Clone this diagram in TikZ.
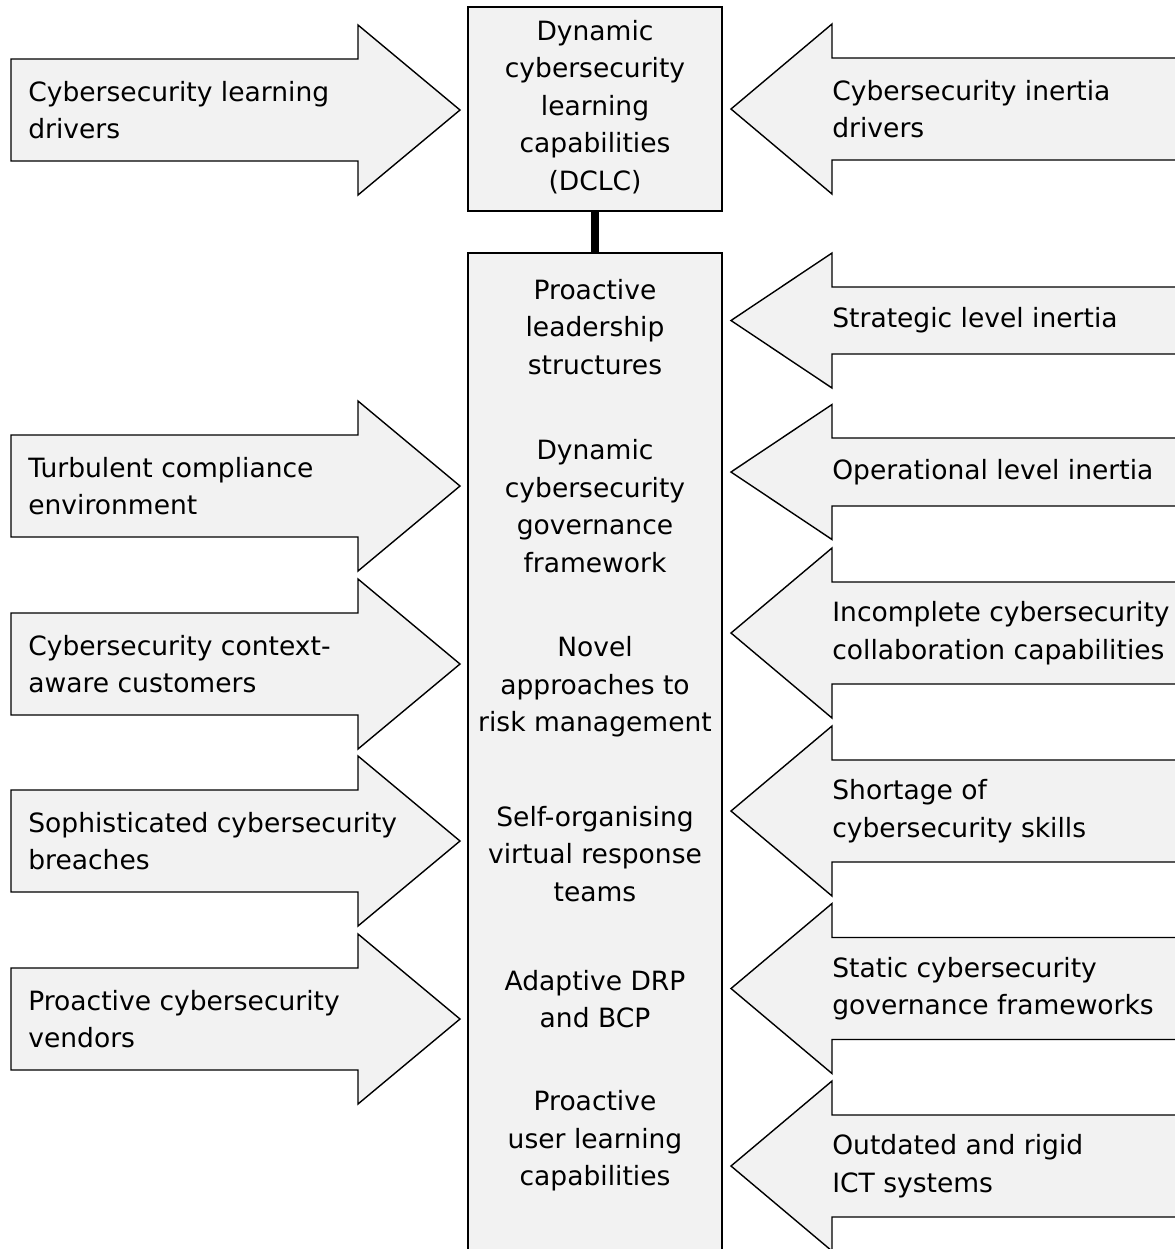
\documentclass[tikz,border=0pt]{standalone}
\usepackage{fontspec}
\setmainfont{DejaVu Sans}
\definecolor{boxgray}{RGB}{242,242,242}
\tikzset{
  txt/.style={font=\fontsize{15.1}{21.3}\selectfont, inner sep=0pt},
  driver/.style={draw, line width=0.8pt, fill=boxgray, line join=miter},
  capbox/.style={draw, line width=1.2pt, fill=boxgray, minimum width=5.08cm}
}
\begin{document}
\begin{tikzpicture}[x=0.02cm, y=-0.02cm]
	\useasboundingbox (0,0) rectangle (1175,1249);
	\clip (0,0) rectangle (1175,1249);
	% boxes in the middle
	\node[capbox, minimum height=4.08cm] (dclc) at (595,109) {};
	\node[capbox, minimum height=20.6cm] (caps) at (595,768) {};
	\draw[line width=4.5pt] (dclc.south) -- (caps.north);
	\node[txt, align=center] (dclctxt) at (595,107) {Dynamic\\cybersecurity\\learning\\capabilities\\(DCLC)};
	\node[txt, align=center] (lead) at (595,327) {Proactive\\leadership\\structures};
	\node[txt, align=center] (gov) at (595,506) {Dynamic\\cybersecurity\\governance\\framework};
	\node[txt, align=center] (risk) at (595,687) {Novel\\approaches to\\risk management};
	\node[txt, align=center] (teams) at (595,854) {Self-organising\\virtual response\\teams};
	\node[txt, align=center] (drp) at (595,999) {Adaptive DRP\\and BCP};
	\node[txt, align=center] (user) at (595,1141) {Proactive\\user learning\\capabilities};
	% drivers on the left
	\foreach \c/\name/\label in {110/lrn/{Cybersecurity learning\\drivers},
	    486/turb/{Turbulent compliance\\environment},
	    664/cust/{Cybersecurity context-\\aware customers},
	    841/brch/{Sophisticated cybersecurity\\breaches},
	    1019/vend/{Proactive cybersecurity\\vendors}} {
		\draw[driver] (11,\c-51) -- (358,\c-51) -- (358,\c-85) -- (460,\c)
		  -- (358,\c+85) -- (358,\c+51) -- (11,\c+51) -- cycle;
		\node[txt, anchor=west, align=left] (\name) at (28,\c) {\label};
	}
	% inertia on the right
	\foreach \c/\h/\b/\name/\label in {109/85/51/inrt/{Cybersecurity inertia\\drivers},
	    320.5/67.5/33.5/strat/{Strategic level inertia},
	    472/67.5/34/oper/{Operational level inertia},
	    633/85/51/coll/{Incomplete cybersecurity\\collaboration capabilities},
	    811/85/51/skil/{Shortage of\\cybersecurity skills},
	    988.5/85/51/stat/{Static cybersecurity\\governance frameworks},
	    1166/85/51/ict/{Outdated and rigid\\ICT systems}} {
		\draw[driver] (1190,\c-\b) -- (832,\c-\b) -- (832,\c-\h) -- (731,\c)
		  -- (832,\c+\h) -- (832,\c+\b) -- (1190,\c+\b) -- cycle;
		\node[txt, anchor=west, align=left] (\name) at (832,\c) {\label};
	}
\end{tikzpicture}
\end{document}
